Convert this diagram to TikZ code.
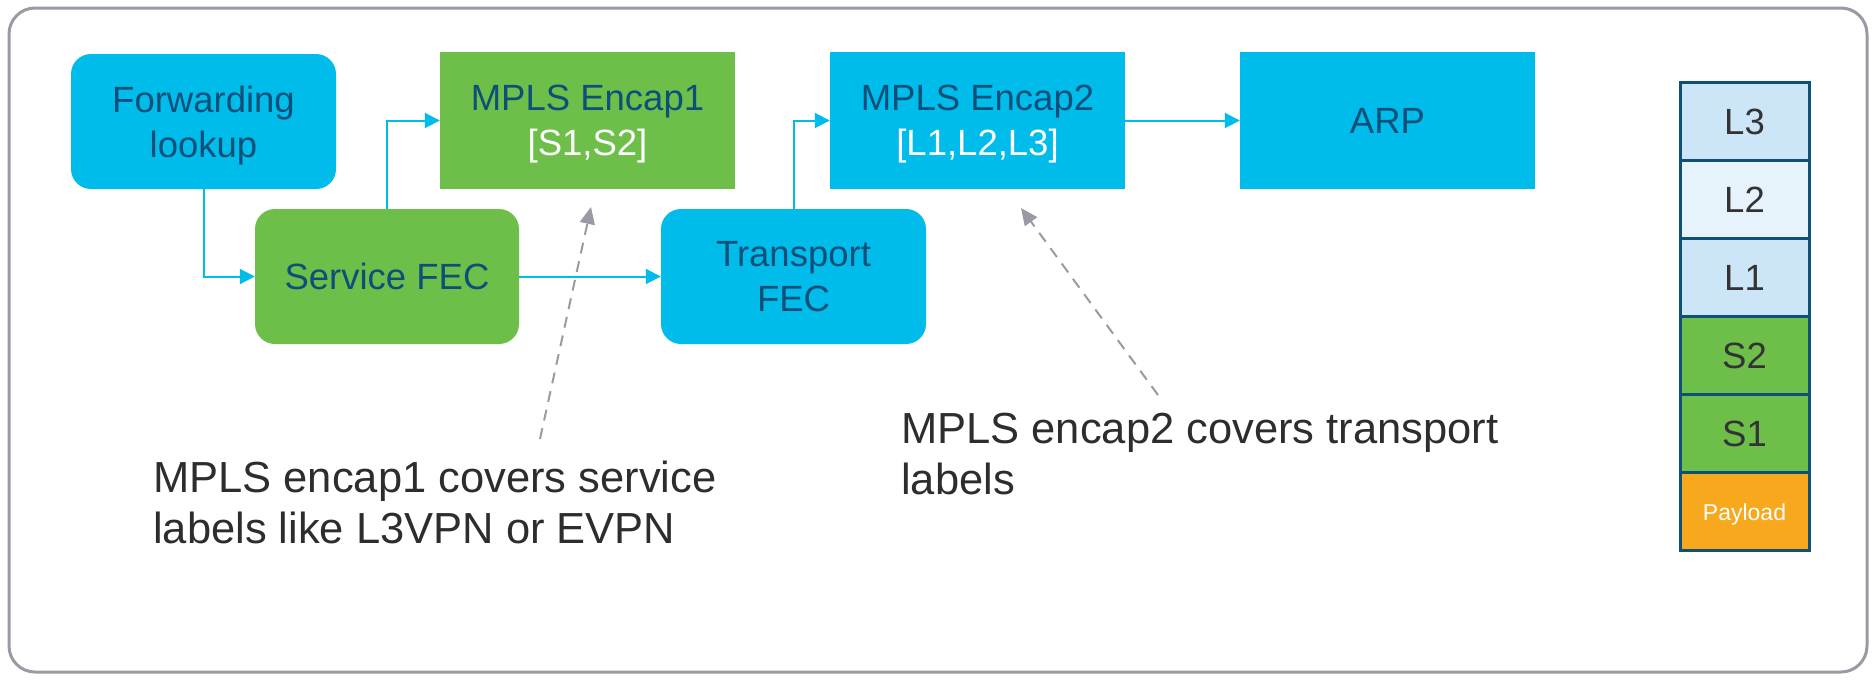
\documentclass[tikz,border=0pt]{standalone}
\usepackage{fontspec}
\setmainfont{Liberation Sans}
\usetikzlibrary{arrows.meta}
\definecolor{ciscocyan}{RGB}{0,188,235}
\definecolor{ciscogreen}{RGB}{110,190,74}
\definecolor{boxtext}{RGB}{12,80,122}
\definecolor{framegray}{RGB}{156,152,164}
\definecolor{stackborder}{RGB}{14,80,118}
\definecolor{lblue}{RGB}{204,229,247}
\definecolor{llblue}{RGB}{230,243,251}
\definecolor{payorange}{RGB}{248,168,28}
\definecolor{stacktext}{RGB}{51,51,51}
\definecolor{annot}{RGB}{45,45,45}
\tikzset{
  boxbase/.style={inner sep=0pt, align=center, text=boxtext, text depth=0pt,
    font=\fontsize{36.5}{45}\selectfont},
  roundbox/.style={boxbase, rounded corners=20pt},
  cyanround/.style={roundbox, fill=ciscocyan, minimum width=265pt, minimum height=135pt},
  greenround/.style={roundbox, fill=ciscogreen, minimum width=264pt, minimum height=135pt},
  cyanrect/.style={boxbase, fill=ciscocyan, minimum width=295pt, minimum height=137pt},
  greenrect/.style={boxbase, fill=ciscogreen, minimum width=295pt, minimum height=137pt},
  flowarrow/.style={draw=ciscocyan, line width=2pt, -{Triangle[length=15pt,width=15pt]}},
  notearrow/.style={draw=framegray, line width=2pt, dash pattern=on 11pt off 8pt,
    -{Triangle[length=17pt,width=15pt]}},
  stackcell/.style={draw=stackborder, line width=3pt, minimum width=129pt,
    minimum height=78pt, inner sep=0pt, text=stacktext, text depth=0pt,
    font=\fontsize{36.5}{40}\selectfont},
  annotext/.style={anchor=north west, inner sep=0pt, align=left, text=annot,
    font=\fontsize{43.5}{50.5}\selectfont},
}
\begin{document}
\begin{tikzpicture}[x=1pt, y=-1pt]
\useasboundingbox (0,0) rectangle (1875,681);
\draw[framegray, line width=3pt, rounded corners=26pt] (9,8) rectangle (1867,672);

\node[cyanround] (fl) at (203.5,121.5) {Forwarding\\lookup};
\node[greenround] (sfec) at (387,276.5) {Service FEC};
\node[greenrect] (enc1) at (587.5,120.5) {MPLS Encap1\\\textcolor{white}{[S1,S2]}};
\node[cyanround] (tfec) at (793.5,276.5) {Transport\\FEC};
\node[cyanrect] (enc2) at (977.5,120.5) {MPLS Encap2\\\textcolor{white}{[L1,L2,L3]}};
\node[cyanrect] (arp) at (1387.5,120.5) {ARP};

\draw[flowarrow] (fl.south) |- (sfec.west);
\draw[flowarrow] (sfec.north) |- (enc1.west);
\draw[flowarrow] (sfec.east) -- (tfec.west);
\draw[flowarrow] (tfec.north) |- (enc2.west);
\draw[flowarrow] (enc2.east) -- (arp.west);

\node[stackcell, fill=lblue] (l3) at (1744.5,121) {\raisebox{-1.5pt}{L3}};
\node[stackcell, fill=llblue] (l2) at (1744.5,199) {\raisebox{-1.5pt}{L2}};
\node[stackcell, fill=lblue] (l1) at (1744.5,277) {\raisebox{-1.5pt}{L1}};
\node[stackcell, fill=ciscogreen] (s2) at (1744.5,355) {\raisebox{-1.5pt}{S2}};
\node[stackcell, fill=ciscogreen] (s1) at (1744.5,433) {\raisebox{-1.5pt}{S1}};
\node[stackcell, fill=payorange, text=white, font=\fontsize{23}{26}\selectfont] (pl) at (1744.5,511) {\raisebox{-1.5pt}{Payload}};

\node[annotext] (note1) at (153,461) {MPLS encap1 covers service\\labels like L3VPN or EVPN};
\node[annotext] (note2) at (901,413) {MPLS encap2 covers transport\\labels};

\coordinate (n1s) at (540,439);
\coordinate (n1e) at (591,207);
\coordinate (n2s) at (1158,395);
\coordinate (n2e) at (1021,208);
\draw[notearrow] (n1s) -- (n1e);
\draw[notearrow] (n2s) -- (n2e);
\end{tikzpicture}
\end{document}
